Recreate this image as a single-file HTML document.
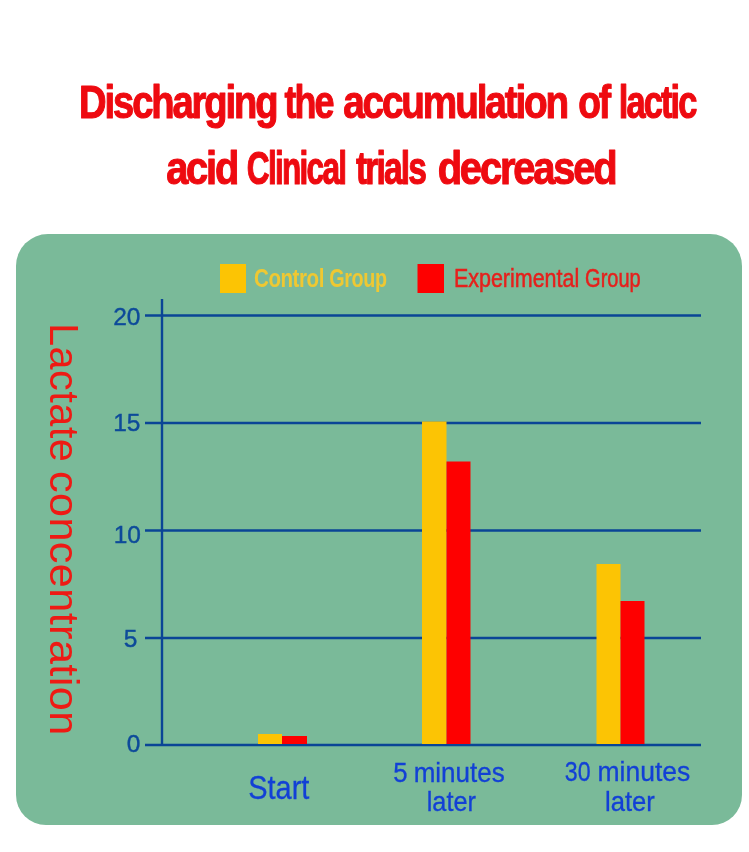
<!DOCTYPE html>
<html>
<head>
<meta charset="utf-8">
<title>Lactate chart</title>
<style>
html,body{margin:0;padding:0;background:#fff;}
body{width:749px;height:852px;overflow:hidden;}
svg{display:block;}
text{font-family:"Liberation Sans",sans-serif;}
.title{font-weight:bold;fill:#ee0a10;font-size:47px;letter-spacing:-2.6px;stroke:#ee0a10;stroke-width:1.0px;stroke-linejoin:round;vector-effect:non-scaling-stroke;}
.lg1{font-weight:bold;font-size:25px;fill:#efc832;letter-spacing:-0.5px;}
.lg2{font-size:25px;fill:#e6201c;stroke:#e6201c;stroke-width:0.5px;}
.yl{font-size:41px;fill:#ee1a14;}
.num{fill:#0d4a9a;font-size:24.5px;stroke:#0d4a9a;stroke-width:0.4px;}
.xl{fill:#1240d6;font-size:27px;stroke:#1240d6;stroke-width:0.3px;}
.xs{font-size:34px;}
</style>
</head>
<body>
<svg width="749" height="852" viewBox="0 0 749 852">
<rect x="0" y="0" width="749" height="852" fill="#ffffff"/>
<g id="t1">
<text class="title" transform="translate(79.06,118) scale(0.8129,1)">Discharging</text>
<text class="title" transform="translate(284.5,118) scale(0.7637,1)">the</text>
<text class="title" transform="translate(343.18,118) scale(0.824,1)">accumulation</text>
<text class="title" transform="translate(578.21,118) scale(0.7906,1)">of</text>
<text class="title" transform="translate(618.8,118) scale(0.7327,1)">lactic</text>
</g>
<g id="t2">
<text class="title" transform="translate(166.15,184) scale(0.8481,1)">acid</text>
<text class="title" transform="translate(246.83,184) scale(0.6729,1)">Clinical</text>
<text class="title" transform="translate(356.0,184) scale(0.7149,1)">trials</text>
<text class="title" transform="translate(437.65,184) scale(0.8508,1)">decreased</text>
</g>
<path d="M48 234 H710 A32 32 0 0 1 742 266 V795 A30 30 0 0 1 712 825 H46 A30 30 0 0 1 16 795 V266 A32 32 0 0 1 48 234 Z" fill="#7aba99"/>
<!-- legend -->
<rect x="220" y="264" width="26" height="29" fill="#fcc404"/>
<text class="lg1" transform="translate(253.98,286.8) scale(0.821,1)">Control</text>
<text class="lg1" transform="translate(329.31,286.8) scale(0.7906,1)">Group</text>
<rect x="417.5" y="264" width="26.5" height="29" fill="#fe0000"/>
<text class="lg2" transform="translate(453.9,286.8) scale(0.859,1)">Experimental</text>
<text class="lg2" transform="translate(585.1,286.8) scale(0.8005,1)">Group</text>
<!-- grid -->
<g stroke="#0a4596" stroke-width="2.4" fill="none">
<line x1="162" y1="299" x2="162" y2="746"/>
<line x1="145" y1="315.5" x2="701" y2="315.5"/>
<line x1="145" y1="423" x2="701" y2="423"/>
<line x1="145" y1="530.5" x2="701" y2="530.5"/>
<line x1="145" y1="638" x2="701" y2="638"/>
<line x1="145" y1="745" x2="701" y2="745"/>
</g>
<!-- bars -->
<rect x="258" y="734" width="24" height="10" fill="#fcc404"/>
<rect x="282" y="736" width="25" height="8" fill="#fe0000"/>
<rect x="422" y="421.5" width="24.5" height="322.5" fill="#fcc404"/>
<rect x="446.5" y="461.5" width="24" height="282.5" fill="#fe0000"/>
<rect x="596.5" y="564" width="24" height="180" fill="#fcc404"/>
<rect x="620.5" y="601" width="24" height="143" fill="#fe0000"/>
<!-- y numbers -->
<g class="num" text-anchor="end">
<text x="140.5" y="325.4">20</text>
<text x="140.5" y="430.8">15</text>
<text x="141" y="543.4">10</text>
<text x="137.5" y="647.4">5</text>
<text x="140.5" y="752.4">0</text>
</g>
<!-- y label -->
<text class="yl" transform="translate(50,322.96) rotate(90) scale(1.0145,1)" style="letter-spacing:0.4px">Lactate</text>
<text class="yl" transform="translate(50,470.95) rotate(90) scale(1.053,1)" style="letter-spacing:0.4px">concentration</text>
<!-- x labels -->
<text class="xl xs" transform="translate(248.28,798.8) scale(0.8513,1)">Start</text>
<text class="xl" transform="translate(393.19,781.9) scale(0.9549,1)">5</text>
<text class="xl" transform="translate(413.68,781.9) scale(0.9632,1)">minutes</text>
<text class="xl" transform="translate(426.7,811.4) scale(0.9376,1)">later</text>
<text class="xl" transform="translate(564.87,781.3) scale(0.8582,1)">30</text>
<text class="xl" transform="translate(597.47,781.3) scale(0.9814,1)">minutes</text>
<text class="xl" transform="translate(604.99,811.2) scale(0.9492,1)">later</text>
</svg>
</body>
</html>
